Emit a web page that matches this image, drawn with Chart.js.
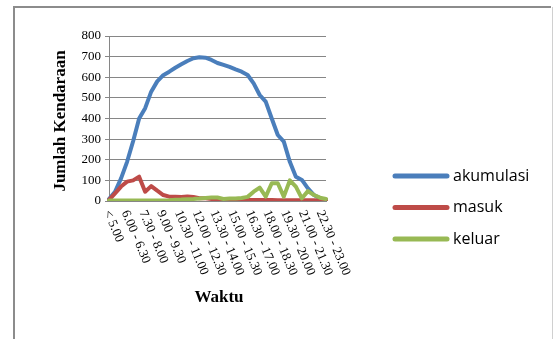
<!DOCTYPE html>
<html>
<head>
<meta charset="utf-8">
<script src="https://cdn.jsdelivr.net/npm/chart.js@4.4.1/dist/chart.umd.min.js"></script>
<style>
  html, body { margin: 0; padding: 0; background: #fff; }
  #wrap { width: 553px; height: 339px; position: relative; }
</style>
</head>
<body>
<div id="wrap"><canvas id="c" width="553" height="339"></canvas></div>
<script>
// Half-hour time slots
const categories = [
  "< 5.00", "5.00 - 5.30", "5.30 - 6.00", "6.00 - 6.30", "6.30 - 7.00", "7.00 - 7.30",
  "7.30 - 8.00", "8.00 - 8.30", "8.30 - 9.00", "9.00 - 9.30", "9.30 - 10.00", "10.00 - 10.30",
  "10.30 - 11.00", "11.00 - 11.30", "11.30 - 12.00", "12.00 - 12.30", "12.30 - 13.00", "13.00 - 13.30",
  "13.30 - 14.00", "14.00 - 14.30", "14.30 - 15.00", "15.00 - 15.30", "15.30 - 16.00", "16.00 - 16.30",
  "16.30 - 17.00", "17.00 - 17.30", "17.30 - 18.00", "18.00 - 18.30", "18.30 - 19.00", "19.00 - 19.30",
  "19.30 - 20.00", "20.00 - 20.30", "20.30 - 21.00", "21.00 - 21.30", "21.30 - 22.00", "22.00 - 22.30",
  "22.30 - 23.00"
];

const akumulasi = [
  10, 45, 110, 190, 290, 400, 450, 530, 580, 610, 627, 646, 663, 679, 692, 697, 695, 684,
  669, 660, 650, 638, 627, 611, 570, 514, 482, 400, 320, 288, 190, 118, 102, 61, 29, 13, 5
];

const masuk = [
  5, 37, 70, 94, 100, 118, 45, 72, 50, 29, 21, 21, 19, 22, 19, 13, 13, 10,
  6, 5, 5, 5, 5, 5, 5, 5, 5, 5, 4, 4, 4, 4, 4, 4, 4, 3, 3
];

const keluar = [
  2, 2, 2, 2, 2, 2, 2, 2, 3, 3, 4, 6, 7, 9, 10, 12, 15, 17,
  17, 10, 12, 12, 15, 20, 45, 65, 21, 86, 86, 21, 100, 70, 13, 48, 29, 16, 10
];

const yTicks = { min: 0, max: 800, step: 100 };
const seriesNames = ["akumulasi", "masuk", "keluar"];
const seriesColors = ["#4a7ebb", "#be4b48", "#98b954"];
const xTitle = "Waktu";
const yTitle = "Jumlah Kendaraan";
const labelEvery = 3;

const serif = "'Liberation Serif', 'Times New Roman', serif";
const sans = "'Open Sans', 'Liberation Sans', sans-serif";

// Frame, rotated category labels, axis titles and legend
const decorations = {
  id: 'decorations',
  beforeDraw(chart) {
    const ctx = chart.ctx;
    ctx.save();
    ctx.fillStyle = '#fff';
    ctx.fillRect(0, 0, chart.width, chart.height);
    ctx.restore();
  },
  afterDraw(chart) {
    const ctx = chart.ctx;
    const xs = chart.scales.x;
    const area = chart.chartArea;
    ctx.save();

    // outer frame
    ctx.strokeStyle = '#8c8c8c';
    ctx.lineWidth = 2;
    ctx.beginPath();
    ctx.moveTo(14, 345);
    ctx.lineTo(14, 7);
    ctx.lineTo(551, 7);
    ctx.stroke();
    ctx.strokeStyle = '#d0d0d0';
    ctx.lineWidth = 1;
    ctx.beginPath();
    ctx.moveTo(552.5, 7);
    ctx.lineTo(552.5, 345);
    ctx.stroke();

    // rotated category labels
    ctx.fillStyle = '#000';
    ctx.font = '13px ' + serif;
    ctx.textAlign = 'left';
    ctx.textBaseline = 'middle';
    const ang = 67 * Math.PI / 180;
    for (let i = 0; i < categories.length; i += labelEvery) {
      const px = xs.getPixelForValue(i);
      ctx.save();
      ctx.translate(px - 2 - i * 0.12, area.bottom + 10);
      ctx.rotate(ang);
      ctx.fillText(categories[i], 0, 0);
      ctx.restore();
    }

    // axis titles
    ctx.font = 'bold 17px ' + serif;
    ctx.textAlign = 'center';
    ctx.textBaseline = 'middle';
    ctx.fillText(xTitle, 219, 298);
    ctx.save();
    ctx.translate(61, 121);
    ctx.rotate(-Math.PI / 2);
    ctx.fillText(yTitle, 0, 0);
    ctx.restore();

    // legend
    const rows = [176, 207.5, 239];
    ctx.font = '16px ' + sans;
    ctx.textAlign = 'left';
    chart.data.datasets.forEach((ds, k) => {
      ctx.strokeStyle = ds.borderColor;
      ctx.lineWidth = 5;
      ctx.lineCap = 'round';
      ctx.beginPath();
      ctx.moveTo(395, rows[k]);
      ctx.lineTo(447, rows[k]);
      ctx.stroke();
      ctx.fillStyle = '#000';
      ctx.fillText(ds.label, 453, rows[k]);
    });
    ctx.restore();
  }
};

const makeSet = (k, data, order) => ({
  label: seriesNames[k],
  data: data,
  borderColor: seriesColors[k],
  backgroundColor: seriesColors[k],
  borderWidth: 4,
  pointRadius: 0,
  pointHoverRadius: 0,
  tension: 0,
  borderJoinStyle: 'round',
  borderCapStyle: 'round',
  fill: false,
  order: order
});

new Chart(document.getElementById('c'), {
  type: 'line',
  data: {
    labels: categories,
    datasets: [
      makeSet(0, akumulasi, 3),
      makeSet(1, masuk, 2),
      makeSet(2, keluar, 1)
    ]
  },
  options: {
    responsive: false,
    animation: false,
    devicePixelRatio: 1,
    layout: { padding: { left: 14, top: 36, right: 227, bottom: 38 } },
    plugins: {
      legend: { display: false },
      tooltip: { enabled: false },
      title: { display: false }
    },
    scales: {
      x: {
        type: 'category',
        offset: false,
        grid: { display: false },
        border: { display: true, color: '#868686', width: 1 },
        ticks: { display: false },
        afterFit(scale) { scale.height = 100; }
      },
      y: {
        min: yTicks.min,
        max: yTicks.max,
        ticks: {
          stepSize: yTicks.step,
          color: '#000',
          font: { family: serif, size: 13 },
          padding: 4
        },
        grid: { color: '#868686', tickColor: '#868686', tickLength: 4, lineWidth: 1 },
        border: { display: true, color: '#868686', width: 1 },
        afterFit(scale) { scale.width = 95; }
      }
    }
  },
  plugins: [decorations]
});
</script>
</body>
</html>
